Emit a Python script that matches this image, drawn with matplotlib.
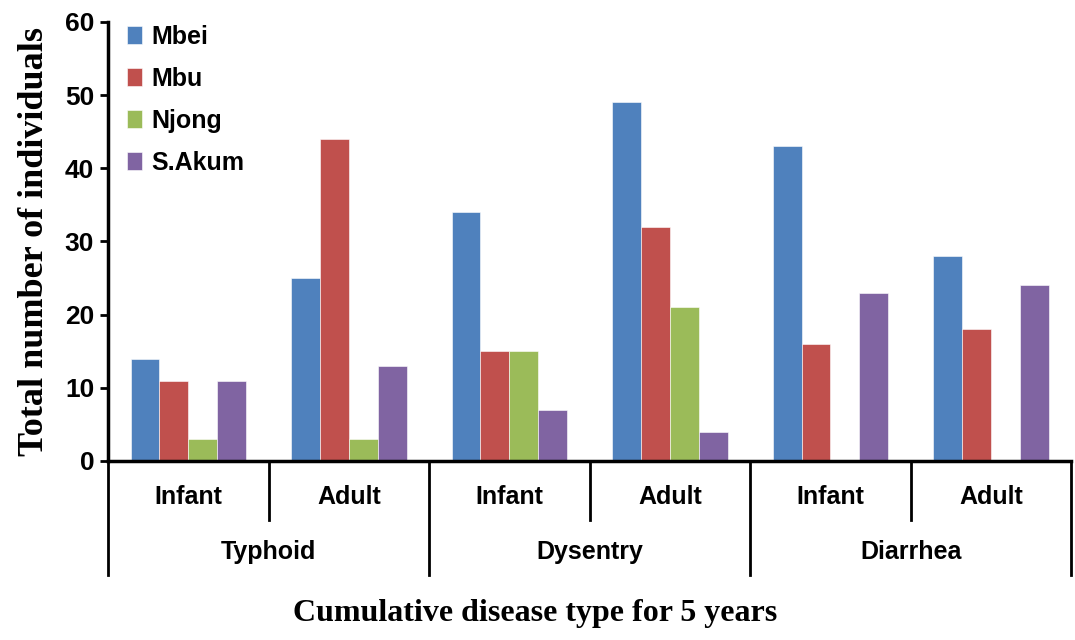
import matplotlib
matplotlib.use("Agg")
import matplotlib.pyplot as plt
import numpy as np

diseases = ["Typhoid", "Dysentry", "Diarrhea"]
ages = ["Infant", "Adult"]
series = ["Mbei", "Mbu", "Njong", "S.Akum"]
mbei = [14, 25, 34, 49, 43, 28]
mbu = [11, 44, 15, 32, 16, 18]
njong = [3, 3, 15, 21, 0, 0]
sakum = [11, 13, 7, 4, 23, 24]
colors = ["#4F81BD", "#C0504D", "#9BBB59", "#8064A2"]

narrow = ["Liberation Sans Narrow", "Liberation Sans", "DejaVu Sans"]
serif = ["Liberation Serif", "DejaVu Serif"]

fig = plt.figure(figsize=(10.75, 6.4), dpi=100)
ax = fig.add_axes([0.1005, 0.2797, 0.896, 0.686])

x = np.arange(len(mbei))
w = 0.18
for i, (vals, name) in enumerate(zip([mbei, mbu, njong, sakum], series)):
    ax.bar(x + (i - 1.5) * w, vals, width=w, color=colors[i], label=name,
           edgecolor="white", linewidth=0.4)

ax.set_xlim(-0.5, 5.5)
ax.set_ylim(0, 60)
ax.set_yticks(range(0, 61, 10))
for lab in ax.get_yticklabels():
    lab.set_fontfamily(narrow)
    lab.set_fontweight("bold")
    lab.set_fontsize(19)
ax.tick_params(axis="y", direction="out", length=6, width=2, pad=4)
ax.set_xticks([])
for s in ["top", "right"]:
    ax.spines[s].set_visible(False)
ax.spines["left"].set_linewidth(2.5)
ax.spines["bottom"].set_linewidth(2.5)

# multi-level category axis
tr = ax.get_xaxis_transform()
for k in range(len(x) + 1):
    xb = k - 0.5
    low = -0.26 if k % 2 == 0 else -0.134
    ax.plot([xb, xb], [0, low], transform=tr, color="black", lw=2, clip_on=False)
for k in range(len(x)):
    ax.text(k, -0.082, ages[k % 2], transform=tr, ha="center", va="center",
            fontsize=18, fontweight="bold", family=narrow)
for j, d in enumerate(diseases):
    ax.text(2 * j + 0.5, -0.208, d, transform=tr, ha="center", va="center",
            fontsize=18, fontweight="bold", family=narrow)

ax.set_ylabel("Total number of individuals", fontsize=26, fontweight="bold",
              family=serif, labelpad=10)
fig.text(0.498, 0.042, "Cumulative disease type for 5 years", ha="center",
         va="center", fontsize=23, fontweight="bold", family=serif)

leg = ax.legend(loc="upper left", bbox_to_anchor=(-0.004, 1.045), frameon=False,
                prop={"family": narrow, "weight": "bold", "size": 18},
                handlelength=0.6, handleheight=0.7, handletextpad=0.4,
                labelspacing=0.72)

fig.savefig("out.png", dpi=100)
